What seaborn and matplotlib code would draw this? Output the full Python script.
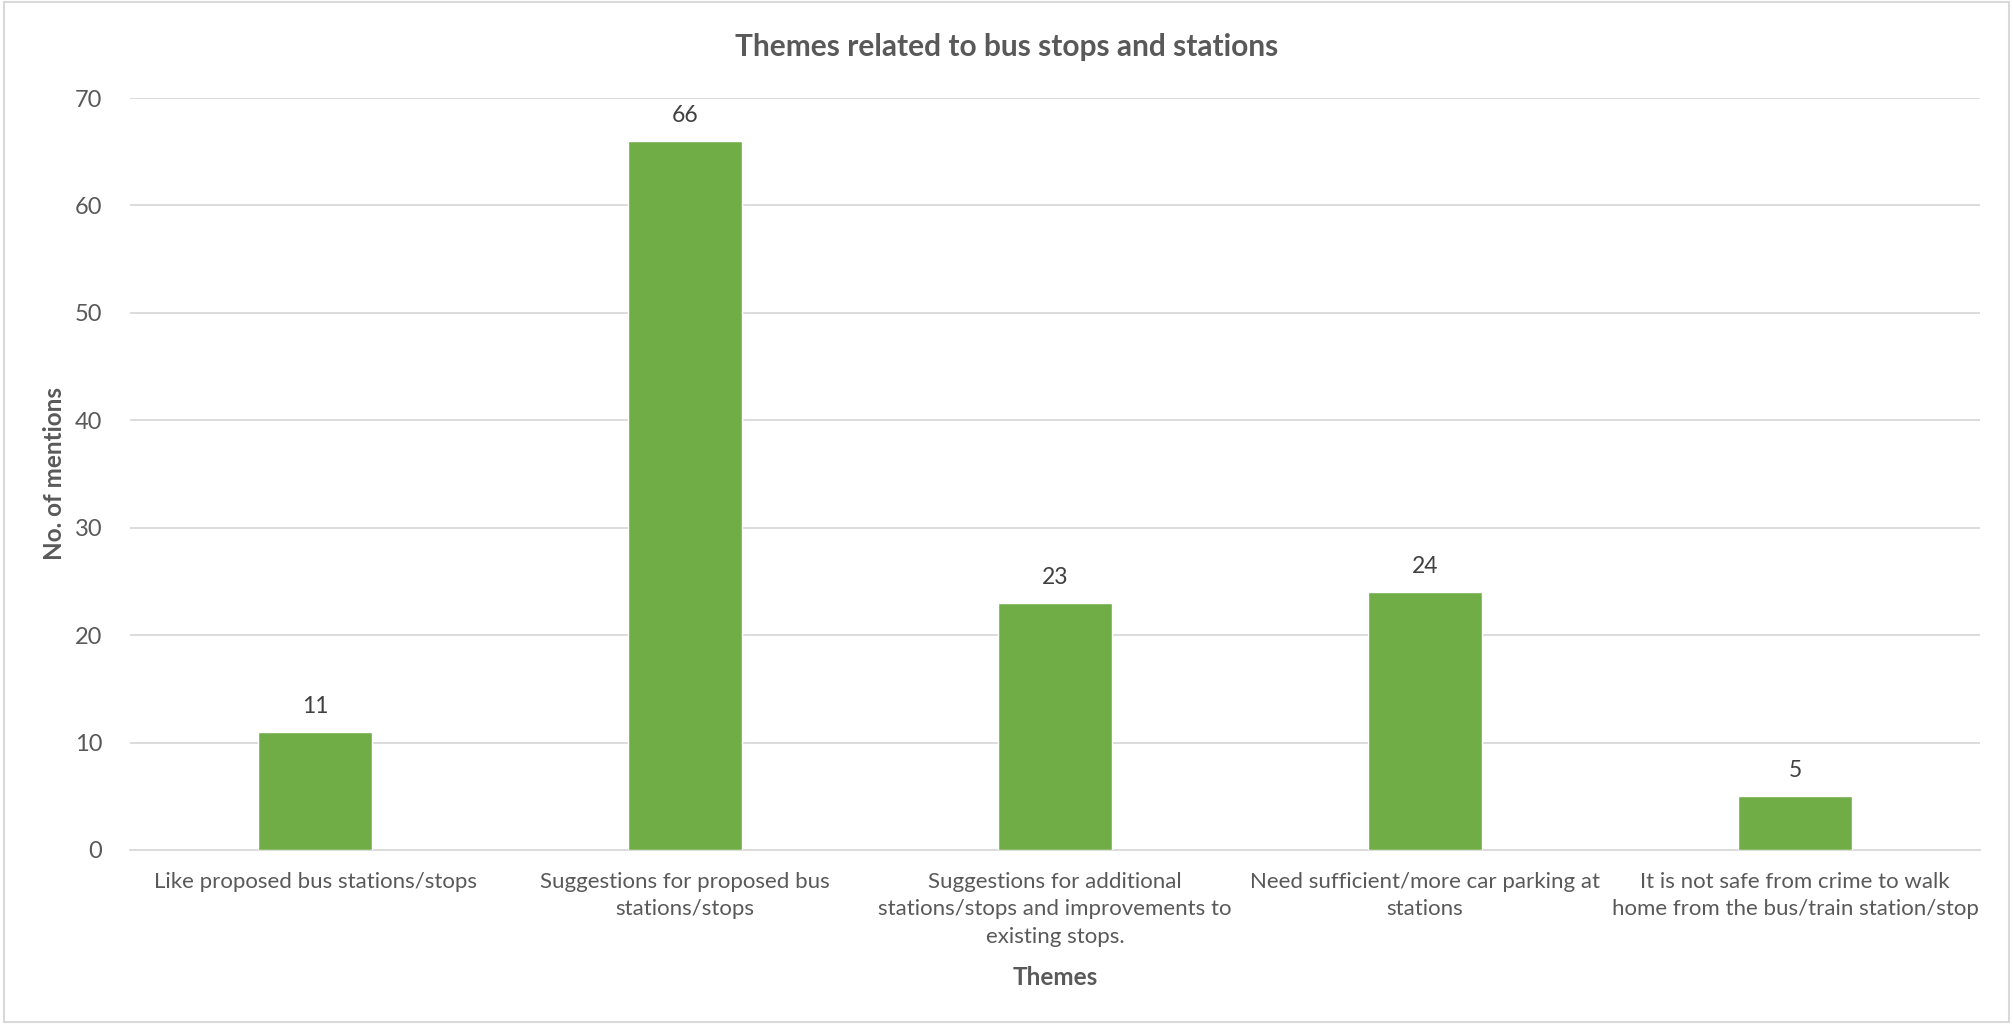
import matplotlib
matplotlib.use("Agg")
import matplotlib.pyplot as plt
import seaborn as sns
import pandas as pd

# ===== data =====
themes = [
    "Like proposed bus stations/stops",
    "Suggestions for proposed bus\nstations/stops",
    "Suggestions for additional\nstations/stops and improvements to\nexisting stops.",
    "Need sufficient/more car parking at\nstations",
    "It is not safe from crime to walk\nhome from the bus/train station/stop",
]
mentions = [11, 66, 23, 24, 5]
y_ticks = [0, 10, 20, 30, 40, 50, 60, 70]

df = pd.DataFrame({"theme": themes, "mentions": mentions})

sns.set_theme(style="white")
plt.rcParams['font.family'] = ['Lato', 'DejaVu Sans']

text_col = '#595959'
grid_col = '#D9D9D9'
bar_col = '#70AD47'

fig = plt.figure(figsize=(20.13, 10.24), dpi=100)
ax = fig.add_axes([130 / 2013, 1 - 850 / 1024, 1850 / 2013, 752 / 1024])

sns.barplot(data=df, x="theme", y="mentions", color=bar_col, width=0.31,
            saturation=1, ax=ax, zorder=3)

ax.set_ylim(0, 70)
ax.set_xlim(-0.5, 4.5)
ax.set_yticks(y_ticks)
ax.yaxis.grid(True, color=grid_col, linewidth=1.3, zorder=0)
for s in ['top', 'right', 'left']:
    ax.spines[s].set_visible(False)
ax.spines['bottom'].set_color(grid_col)
ax.spines['bottom'].set_linewidth(1.3)

ax.tick_params(axis='y', labelsize=17, colors=text_col, length=0, pad=20)
ax.tick_params(axis='x', labelsize=16, colors=text_col, length=0, pad=16)
for lbl in ax.get_xticklabels():
    lbl.set_linespacing(1.45)

for p, v in zip(ax.patches, mentions):
    ax.annotate(str(v), (p.get_x() + p.get_width() / 2, p.get_height()),
                xytext=(0, 11), textcoords='offset points', ha='center',
                va='bottom', fontsize=16.5, color='#404040')

ax.set_xlabel("Themes", fontsize=17.5, fontweight='bold', color=text_col, labelpad=14)
ax.set_ylabel("No. of mentions", fontsize=17.5, fontweight='bold', color=text_col, labelpad=6)
fig.text(0.5, 1 - 47 / 1024, "Themes related to bus stops and stations",
         ha='center', va='center', fontsize=21.5, fontweight='bold', color=text_col)

# outer frame
fig.patches.append(plt.Rectangle((0.002, 0.002), 0.996, 0.996, transform=fig.transFigure,
                                 fill=False, edgecolor=grid_col, linewidth=1.5))

fig.savefig("out.png", dpi=100)
